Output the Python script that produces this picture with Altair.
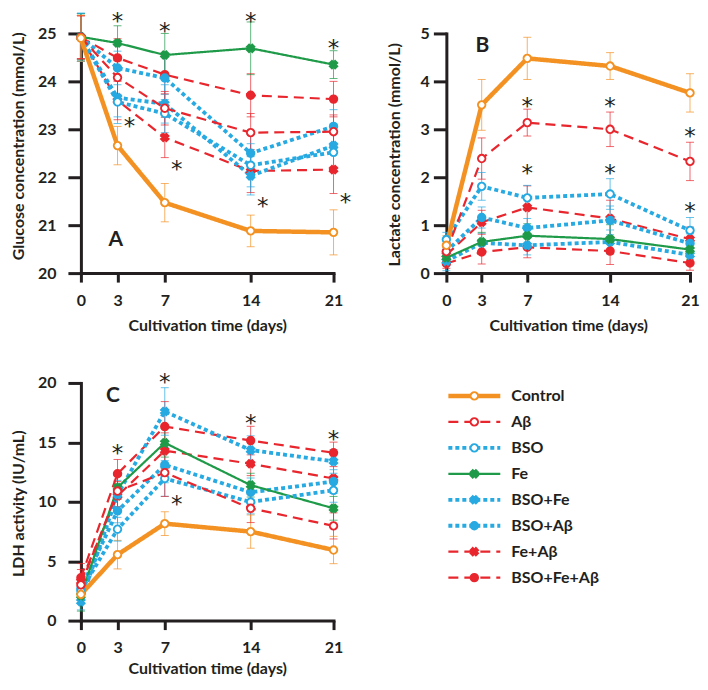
import altair as alt
import pandas as pd

# ---------------- data ----------------
DAYS = [0, 3, 7, 14, 21]
SERIES = ["Control", "Aβ", "BSO", "Fe", "BSO+Fe", "BSO+Aβ", "Fe+Aβ", "BSO+Fe+Aβ"]

GLU_MEAN = {
    "Control":    [24.90, 22.66, 21.47, 20.88, 20.85],
    "Aβ":         [24.92, 24.08, 23.44, 22.93, 22.95],
    "BSO":        [24.92, 23.57, 23.33, 22.25, 22.52],
    "Fe":         [24.93, 24.80, 24.55, 24.69, 24.35],
    "BSO+Fe":     [24.92, 23.66, 23.53, 22.03, 22.66],
    "BSO+Aβ":     [24.92, 24.28, 24.07, 22.50, 23.06],
    "Fe+Aβ":      [24.92, 23.60, 22.83, 22.13, 22.16],
    "BSO+Fe+Aβ":  [24.92, 24.49, 24.14, 23.71, 23.63],
}
GLU_ERR = {
    "Control":    [0.48, 0.40, 0.40, 0.33, 0.47],
    "Aβ":         [0.45, 0.35, 0.35, 0.40, 0.35],
    "BSO":        [0.50, 0.45, 0.40, 0.45, 0.40],
    "Fe":         [0.48, 0.36, 0.45, 0.55, 0.29],
    "BSO+Fe":     [0.50, 0.40, 0.40, 0.40, 0.45],
    "BSO+Aβ":     [0.50, 0.35, 0.45, 0.40, 0.35],
    "Fe+Aβ":      [0.45, 0.40, 0.42, 0.45, 0.50],
    "BSO+Fe+Aβ":  [0.45, 0.40, 0.40, 0.45, 0.37],
}
LAC_MEAN = {
    "Control":    [0.58, 3.51, 4.48, 4.32, 3.76],
    "Aβ":         [0.45, 2.39, 3.14, 3.00, 2.33],
    "BSO":        [0.70, 1.81, 1.57, 1.65, 0.89],
    "Fe":         [0.32, 0.65, 0.78, 0.71, 0.49],
    "BSO+Fe":     [0.25, 0.63, 0.58, 0.65, 0.38],
    "BSO+Aβ":     [0.45, 1.16, 0.94, 1.10, 0.62],
    "Fe+Aβ":      [0.38, 1.06, 1.37, 1.14, 0.71],
    "BSO+Fe+Aβ":  [0.20, 0.44, 0.54, 0.46, 0.21],
}
LAC_ERR = {
    "Control":    [0.20, 0.53, 0.44, 0.28, 0.40],
    "Aβ":         [0.15, 0.43, 0.28, 0.36, 0.40],
    "BSO":        [0.15, 0.29, 0.26, 0.32, 0.27],
    "Fe":         [0.15, 0.20, 0.25, 0.30, 0.20],
    "BSO+Fe":     [0.20, 0.20, 0.20, 0.25, 0.20],
    "BSO+Aβ":     [0.15, 0.22, 0.20, 0.30, 0.20],
    "Fe+Aβ":      [0.15, 0.25, 0.45, 0.38, 0.25],
    "BSO+Fe+Aβ":  [0.10, 0.25, 0.22, 0.28, 0.15],
}
LDH_MEAN = {
    "Control":    [2.20, 5.55, 8.16, 7.49, 5.94],
    "Aβ":         [3.00, 10.90, 12.45, 9.45, 7.97],
    "BSO":        [2.50, 7.69, 11.96, 9.98, 10.96],
    "Fe":         [2.10, 11.20, 14.96, 11.40, 9.45],
    "BSO+Fe":     [1.60, 10.60, 17.60, 14.35, 13.40],
    "BSO+Aβ":     [2.70, 9.23, 13.10, 10.80, 11.70],
    "Fe+Aβ":      [3.30, 10.50, 14.30, 13.20, 11.96],
    "BSO+Fe+Aβ":  [3.60, 12.36, 16.33, 15.15, 14.12],
}
LDH_ERR = {
    "Control":    [0.50, 1.20, 1.00, 1.40, 1.15],
    "Aβ":         [0.80, 1.30, 2.00, 1.20, 1.10],
    "BSO":        [0.80, 1.00, 1.50, 1.00, 1.00],
    "Fe":         [1.30, 1.00, 1.20, 1.00, 1.00],
    "BSO+Fe":     [0.70, 1.20, 2.00, 1.20, 1.00],
    "BSO+Aβ":     [0.80, 1.00, 1.50, 1.20, 1.00],
    "Fe+Aβ":      [1.00, 1.20, 1.50, 1.00, 1.00],
    "BSO+Fe+Aβ":  [1.20, 1.20, 2.10, 1.20, 0.90],
}

# significance asterisks: (day, value)
GLU_AST_TOP = [(3, 25.36), (7, 25.16), (14, 25.36), (21, 24.81)]
GLU_AST_SIDE = [(3, 23.18), (7, 22.27), (14, 21.50), (21, 21.58)]
LAC_AST_TOP = [(7, 3.59), (14, 3.59), (21, 2.97), (7, 2.20), (14, 2.19), (21, 1.40)]
LAC_AST_SIDE = []
LDH_AST_TOP = [(3, 14.5), (7, 20.5), (14, 17.06), (21, 15.7)]
LDH_AST_SIDE = [(7, 10.2)]

# ---------------- styles ----------------
ORANGE, RED, BLUE, GREEN = "#F39223", "#E8262D", "#27A9E1", "#1E9A48"
INK = "#231F20"
DASHED, DOTTED, SOLID = [10, 6], [4, 3], [1, 0]
STYLE = {
    #  name         color   fill     shape     dash    width
    "Control":    (ORANGE, "white", "circle", SOLID,  4.5),
    "Aβ":         (RED,    "white", "circle", DASHED, 2.2),
    "BSO":        (BLUE,   "white", "circle", DOTTED, 3.8),
    "Fe":         (GREEN,  GREEN,   "cross",  SOLID,  2.2),
    "BSO+Fe":     (BLUE,   BLUE,    "cross",  DOTTED, 3.8),
    "BSO+Aβ":     (BLUE,   BLUE,    "circle", DOTTED, 3.8),
    "Fe+Aβ":      (RED,    RED,     "cross",  DASHED, 2.2),
    "BSO+Fe+Aβ":  (RED,    RED,     "circle", DASHED, 2.2),
}
LEGEND_DASH = {"Control": SOLID, "Aβ": [12, 8], "BSO": DOTTED, "Fe": SOLID,
               "BSO+Fe": DOTTED, "BSO+Aβ": DOTTED, "Fe+Aβ": [12, 8], "BSO+Fe+Aβ": [12, 8]}
DRAW_ORDER = ["BSO+Fe+Aβ", "Fe+Aβ", "BSO+Aβ", "BSO+Fe", "Fe", "BSO", "Aβ", "Control"]
POS_FRAC = [0.0, 0.145, 0.332, 0.672, 1.0]   # horizontal placement of the day ticks
FONT = "Lato"
AST_SIZE = 23

color_s = alt.Scale(domain=SERIES, range=[STYLE[s][0] for s in SERIES])
fill_s = alt.Scale(domain=SERIES, range=[STYLE[s][1] for s in SERIES])
shape_s = alt.Scale(domain=SERIES, range=[STYLE[s][2] for s in SERIES])
dash_s = alt.Scale(domain=SERIES, range=[STYLE[s][3] for s in SERIES])
ldash_s = alt.Scale(domain=SERIES, range=[LEGEND_DASH[s] for s in SERIES])


def long_df(means, errs):
    rows = []
    for s in DRAW_ORDER:
        for d, m, e in zip(DAYS, means[s], errs[s]):
            rows.append({"day": d, "series": s, "mean": m, "lo": m - e, "hi": m + e,
                         "sw": STYLE[s][4]})
    return pd.DataFrame(rows)


def panel(means, errs, ast_top, ast_side, ydom, yvals, lab_mod, ytitle,
          letter, letter_xy, w, h, ytitle_xy, ylab_pad, xtitle_y, xlab_pad):
    df = long_df(means, errs)
    xs = alt.Scale(domain=DAYS, range=[f * w for f in POS_FRAC], nice=False, zero=False)
    x_axis = alt.Axis(values=DAYS, title="Cultivation time (days)", titleX=w / 2, titleY=xtitle_y,
                      titleBaseline="alphabetic", titleAlign="center",
                      tickSize=9, labelPadding=xlab_pad, labelBaseline="alphabetic")
    ys = alt.Scale(domain=ydom, nice=False, zero=False)
    y_axis = alt.Axis(values=yvals, title=ytitle,
                      labelExpr=f"datum.value % {lab_mod} == 0 ? datum.label : ''",
                      titleX=ytitle_xy[0], titleY=ytitle_xy[1], titleAngle=-90,
                      titleAlign="center", titleBaseline="middle",
                      tickSize=13, labelPadding=ylab_pad)
    X = alt.X("day:Q", scale=xs, axis=x_axis)
    Xn = alt.X("day:Q", scale=xs)
    col = alt.Color("series:N", scale=color_s, legend=None)

    base = alt.Chart(df)
    rules = base.mark_rule(strokeWidth=1, opacity=0.7).encode(
        x=X, y=alt.Y("lo:Q", scale=ys, axis=y_axis), y2="hi:Q", color=col)
    cap_hi = base.mark_tick(orient="horizontal", size=8, thickness=1, opacity=0.7).encode(
        x=Xn, y=alt.Y("hi:Q", scale=ys), color=col)
    cap_lo = base.mark_tick(orient="horizontal", size=8, thickness=1, opacity=0.7).encode(
        x=Xn, y=alt.Y("lo:Q", scale=ys), color=col)
    lines = base.mark_line(strokeCap="butt").encode(
        x=Xn, y=alt.Y("mean:Q", scale=ys), color=col,
        strokeDash=alt.StrokeDash("series:N", scale=dash_s, legend=None),
        strokeWidth=alt.StrokeWidth("sw:Q", scale=None),
        detail="series:N")
    pts = base.mark_point(filled=True, size=55, strokeWidth=2, opacity=1, angle=45).encode(
        x=Xn, y=alt.Y("mean:Q", scale=ys),
        stroke=alt.Stroke("series:N", scale=color_s, legend=None),
        fill=alt.Fill("series:N", scale=fill_s, legend=None),
        shape=alt.Shape("series:N", scale=shape_s, legend=None))
    layers = [rules, cap_hi, cap_lo, lines, pts]
    if ast_top:
        adf = pd.DataFrame(ast_top, columns=["day", "v"])
        layers.append(alt.Chart(adf).mark_text(text="*", fontSize=AST_SIZE, font="DejaVu Sans",
                                               color=INK, dy=6).encode(
            x=Xn, y=alt.Y("v:Q", scale=ys)))
    if ast_side:
        sdf = pd.DataFrame(ast_side, columns=["day", "v"])
        layers.append(alt.Chart(sdf).mark_text(text="*", fontSize=AST_SIZE, font="DejaVu Sans",
                                               color=INK, dy=6, dx=12).encode(
            x=Xn, y=alt.Y("v:Q", scale=ys)))
    ldf = pd.DataFrame({"t": [letter]})
    layers.append(alt.Chart(ldf).mark_text(fontSize=21, font=FONT, fontWeight="bold",
                                           color=INK, baseline="middle", align="center").encode(
        text="t:N", x=alt.value(letter_xy[0]), y=alt.value(letter_xy[1])))
    return alt.layer(*layers).properties(width=w, height=h)


W1, W2 = 253, 244
HA, HC = 240, 238

pA = panel(GLU_MEAN, GLU_ERR, GLU_AST_TOP, GLU_AST_SIDE, [20, 25], [20, 21, 22, 23, 24, 25], 1,
           "Glucose concentration (mmol/L)", "A", (35, 207), W1, HA, (-62, 112.5), 12, 57, 23.5)
pB = panel(LAC_MEAN, LAC_ERR, LAC_AST_TOP, LAC_AST_SIDE, [0, 5],
           [0, 0.5, 1, 1.5, 2, 2.5, 3, 3.5, 4, 4.5, 5], 1,
           "Lactate concentration (mmol/L)", "B", (36, 13), W2, HA, (-52, 121), 4, 57, 23.5)
pC = panel(LDH_MEAN, LDH_ERR, LDH_AST_TOP, LDH_AST_SIDE, [0, 20],
           [0, 2.5, 5, 7.5, 10, 12.5, 15, 17.5, 20], 5,
           "LDH activity (IU/mL)", "C", (32, 13), W1, HC, (-62, 120.5), 12, 53, 22.5)

# ---------------- legend panel ----------------
leg = pd.DataFrame({"series": SERIES, "sw": [STYLE[s][4] for s in SERIES]})
ly = alt.Y("series:N", scale=alt.Scale(type="point", domain=SERIES, range=[13, 195], padding=0),
           axis=None)
lcol = alt.Color("series:N", scale=color_s, legend=None)
lbase = alt.Chart(leg)
l_lines = lbase.mark_rule(strokeCap="butt").encode(
    x=alt.value(2), x2=alt.value(54), y=ly, color=lcol,
    strokeDash=alt.StrokeDash("series:N", scale=ldash_s, legend=None),
    strokeWidth=alt.StrokeWidth("sw:Q", scale=None))
l_pts = lbase.mark_point(filled=True, size=55, strokeWidth=2, opacity=1, angle=45).encode(
    x=alt.value(28), y=ly,
    stroke=alt.Stroke("series:N", scale=color_s, legend=None),
    fill=alt.Fill("series:N", scale=fill_s, legend=None),
    shape=alt.Shape("series:N", scale=shape_s, legend=None))
l_txt = lbase.mark_text(align="left", baseline="middle", fontSize=16, font=FONT,
                        fontWeight="bold", color=INK).encode(
    x=alt.value(65), y=ly, text="series:N")
pL = alt.layer(l_lines, l_pts, l_txt).properties(width=W2, height=HC)

chart = alt.concat(pA, pB, pC, pL, columns=2, spacing={"row": 110, "column": 113},
                   bounds="flush").properties(
    padding={"left": 2, "top": 2, "right": 0, "bottom": 0}
).configure_view(
    stroke=None
).configure_axis(
    grid=False, domainColor=INK, domainWidth=3, domainCap="square",
    tickColor=INK, tickWidth=3,
    labelFont=FONT, labelFontWeight="bold", labelFontSize=16, labelColor=INK,
    labelFlush=False, labelOverlap=False, labelBound=False,
    titleFont=FONT, titleFontWeight="bold", titleFontSize=16, titleColor=INK,
).resolve_scale(x="independent", y="independent", color="shared")

chart.save("out.html", embed_options={"renderer": "svg", "actions": False})
